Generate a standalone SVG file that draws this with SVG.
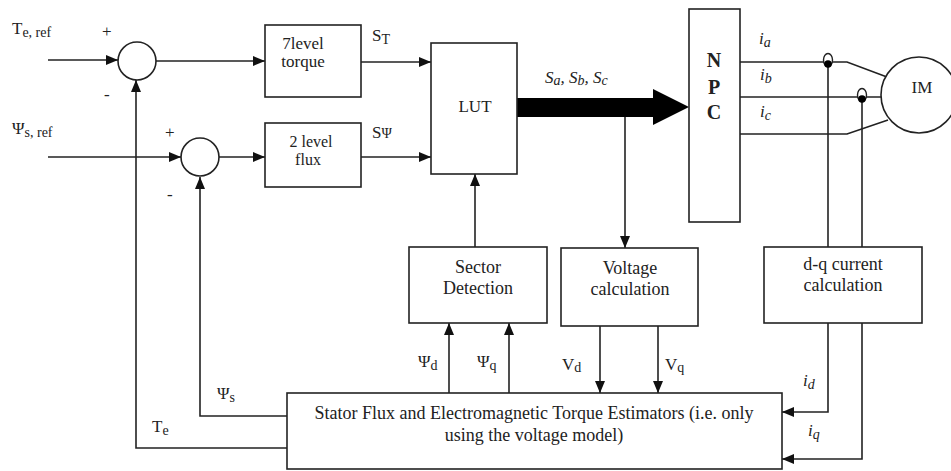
<svg xmlns="http://www.w3.org/2000/svg" width="951" height="471" viewBox="0 0 951 471" font-family="'Liberation Serif', 'Times New Roman', 'DejaVu Serif', serif">
<defs>
<marker id="ah" viewBox="0 0 12 10" refX="12" refY="5" markerWidth="12" markerHeight="10" markerUnits="userSpaceOnUse" orient="auto">
<path d="M0,0 L12,5 L0,10 Z" fill="#111"/>
</marker>
</defs>
<style>
.b{fill:#fff;stroke:#222;stroke-width:1.6}
.l{fill:none;stroke:#222;stroke-width:1.6}
.a{fill:none;stroke:#222;stroke-width:1.6;marker-end:url(#ah)}
text{fill:#222;font-size:17px}
.c{text-anchor:middle}
.m{font-size:18px}
.f{font-size:16px}
.n{font-size:20px;font-weight:bold}
.s{font-size:14px}
.i{font-style:italic}
</style>
<rect width="951" height="471" fill="#fff"/>
<g id="connectors">
<line class="a" x1="48" y1="60" x2="118" y2="60"/>
<line class="a" x1="48" y1="157" x2="181" y2="157"/>
<line class="a" x1="156" y1="61" x2="265" y2="61"/>
<line class="a" x1="219" y1="157" x2="265" y2="157"/>
<polyline class="a" points="287,448 136,448 136,80"/>
<polyline class="a" points="287,416 200,416 200,177"/>
<line class="a" x1="361" y1="62" x2="431" y2="62"/>
<line class="a" x1="361" y1="157" x2="431" y2="157"/>
<polygon points="517,98 653,98 653,89 689,107 653,125 653,117 517,117" fill="#000"/>
<line class="a" x1="625" y1="117" x2="625" y2="248"/>
<line class="a" x1="475" y1="247" x2="475" y2="174"/>
<line class="a" x1="449" y1="393" x2="449" y2="323"/>
<line class="a" x1="509" y1="393" x2="509" y2="323"/>
<line class="a" x1="600" y1="326" x2="600" y2="393"/>
<line class="a" x1="658" y1="326" x2="658" y2="393"/>
<polyline class="l" points="740,62 847,62 887,77"/>
<line class="l" x1="740" y1="97" x2="881" y2="97"/>
<polyline class="l" points="740,134 847,134 888,120"/>
<line class="l" x1="828" y1="62" x2="828" y2="247"/>
<line class="l" x1="862" y1="97" x2="862" y2="247"/>
<polyline class="a" points="828,323 828,412 782,412"/>
<polyline class="a" points="862,323 862,459 782,459"/>
<ellipse cx="828" cy="60" rx="4.5" ry="6.5" fill="#fff" stroke="#222" stroke-width="1.4"/>
<circle cx="828" cy="64" r="3.8" fill="#000"/>
<ellipse cx="862" cy="95" rx="4.5" ry="6.5" fill="#fff" stroke="#222" stroke-width="1.4"/>
<circle cx="862" cy="99" r="3.8" fill="#000"/>
</g>
<g id="labels">
<text x="12" y="34">T<tspan class="s" dy="3">e, ref</tspan></text>
<text x="102" y="37">+</text>
<text x="104" y="100">-</text>
<text x="12" y="134">Ψ<tspan class="s" dy="3">s, ref</tspan></text>
<text x="165" y="138">+</text>
<text x="167" y="200">-</text>
<text x="372" y="41">S<tspan class="s" dy="3">T</tspan></text>
<text x="372" y="138">S<tspan class="s">Ψ</tspan></text>
<text x="545" y="83" class="i">S<tspan class="s" dy="2">a</tspan><tspan dy="-2">, S</tspan><tspan class="s" dy="2">b</tspan><tspan dy="-2">, S</tspan><tspan class="s" dy="2">c</tspan></text>
<text x="217" y="399">Ψ<tspan class="s" dy="3">s</tspan></text>
<text x="152" y="432">T<tspan class="s" dy="3">e</tspan></text>
<text x="418" y="367">Ψ<tspan class="s" dy="3">d</tspan></text>
<text x="477" y="367">Ψ<tspan class="s" dy="3">q</tspan></text>
<text x="562" y="370">V<tspan class="s" dy="2">d</tspan></text>
<text x="665" y="370">V<tspan class="s" dy="2">q</tspan></text>
<text x="759" y="44" class="i">i<tspan class="s" dy="3">a</tspan></text>
<text x="760" y="80" class="i">i<tspan class="s" dy="3">b</tspan></text>
<text x="760" y="117" class="i">i<tspan class="s" dy="3">c</tspan></text>
<text x="803" y="386" class="i">i<tspan class="s" dy="3">d</tspan></text>
<text x="808" y="436" class="i">i<tspan class="s" dy="3">q</tspan></text>
</g>
<g id="sum1"><circle class="b" cx="137" cy="61" r="19"/></g>
<g id="sum2"><circle class="b" cx="200" cy="157" r="19"/></g>
<g id="torque"><rect class="b" x="265" y="25" width="96" height="72"/>
<text class="c" x="303" y="49">7level</text><text class="c" x="303" y="67">torque</text></g>
<g id="flux"><rect class="b" x="265" y="123" width="96" height="64"/>
<text class="c f" x="311" y="147">2 level</text><text class="c f" x="308" y="165">flux</text></g>
<g id="lut"><rect class="b" x="431" y="43" width="86" height="131"/>
<text class="c" x="475" y="112">LUT</text></g>
<g id="npc"><rect class="b" x="689" y="9" width="51" height="213"/>
<text class="c n" x="714" y="67">N</text>
<text class="c n" x="714" y="94">P</text>
<text class="c n" x="714" y="119">C</text></g>
<g id="im"><circle class="b" cx="919" cy="95" r="38"/>
<text class="c" x="922" y="93">IM</text></g>
<g id="sector"><rect class="b" x="409" y="247" width="138" height="76"/>
<text class="c m" x="478" y="273">Sector</text><text class="c m" x="478" y="294">Detection</text></g>
<g id="voltage"><rect class="b" x="561" y="248" width="137" height="78"/>
<text class="c m" x="630" y="274">Voltage</text><text class="c m" x="630" y="295">calculation</text></g>
<g id="dq"><rect class="b" x="764" y="247" width="158" height="76"/>
<text class="c m" x="843" y="270">d-q current</text><text class="c m" x="843" y="291">calculation</text></g>
<g id="estimator"><rect class="b" x="287" y="393" width="495" height="76"/>
<text class="c m" x="534" y="419">Stator Flux and Electromagnetic Torque Estimators (i.e. only</text>
<text class="c m" x="534" y="441">using the voltage model)</text></g>
</svg>
